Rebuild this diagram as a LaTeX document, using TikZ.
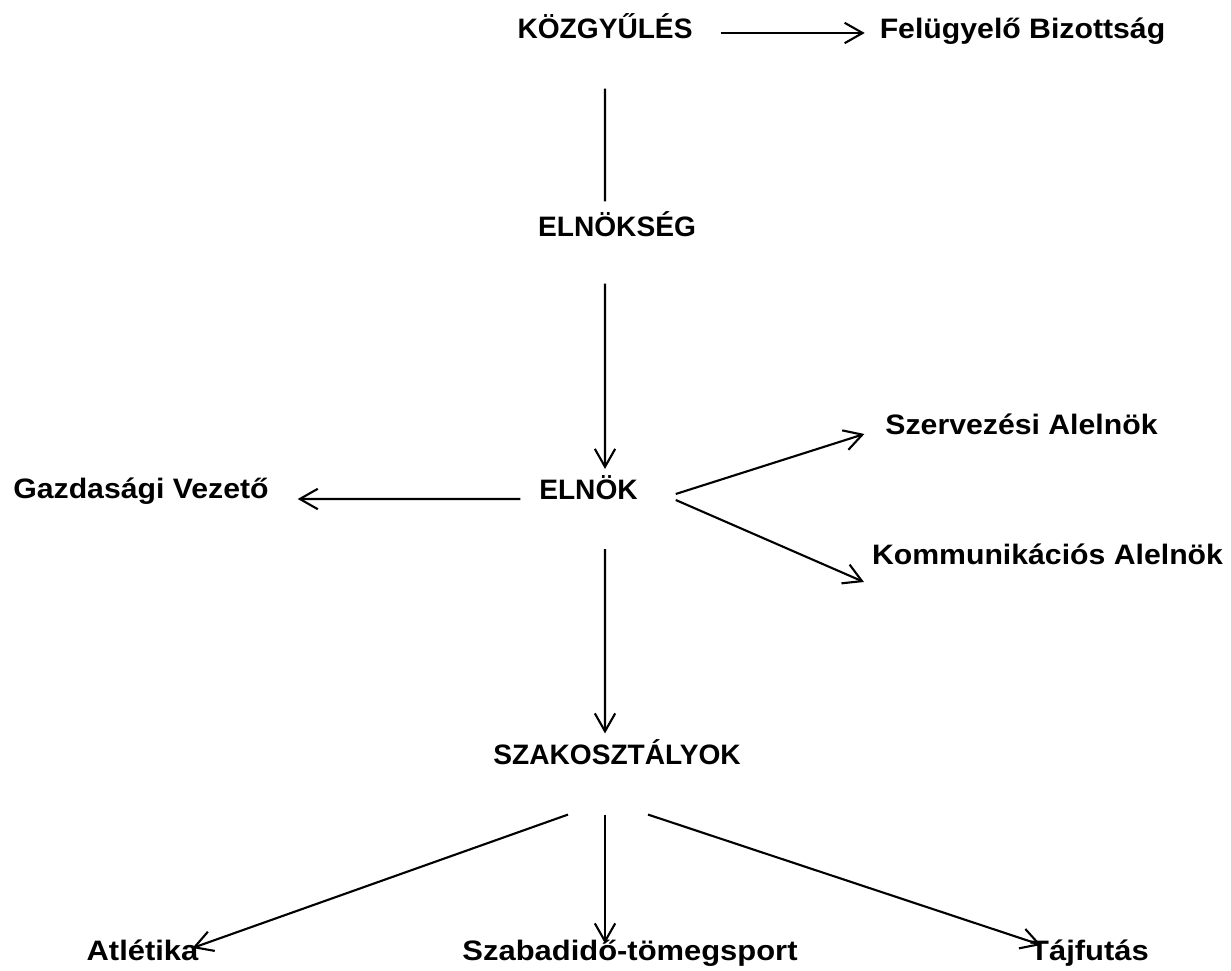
\documentclass[tikz,border=0pt]{standalone}
\usepackage{fontspec}
\setmainfont{Liberation Sans}
\newfontfamily\widefont[FakeStretch=1.075]{Liberation Sans}
\newfontfamily\widerfont[FakeStretch=1.1]{Liberation Sans}
\usetikzlibrary{arrows.meta}
\begin{document}
\begin{tikzpicture}[line width=0.6pt, main node/.style={inner sep=0pt,text height=5.7pt,text depth=0pt,font=\fontsize{8}{9.6}\selectfont\bfseries}, name node/.style={main node,font=\widefont\fontsize{8}{9.6}\selectfont\bfseries}, leaf node/.style={main node,font=\widerfont\fontsize{8}{9.6}\selectfont\bfseries}, arrow edge/.style={-{Straight Barb[length=5.1pt,width=5.8pt]}}] % 1px = 0.01cm
\useasboundingbox (0,0) rectangle (12.31,-9.71);
\node[main node] (kozgy) at (6.05,-0.28) {KÖZGYŰLÉS};
\node[name node] (felugy) at (10.225,-0.28) {Felügyelő Bizottság};
\node[main node] (elnokseg) at (6.17,-2.26) {ELNÖKSÉG};
\node[main node] (elnok) at (5.885,-4.895) {ELNÖK};
\node[name node] (gazd) at (1.41,-4.885) {Gazdasági Vezető};
\node[name node] (szerv) at (10.215,-4.245) {Szervezési Alelnök};
\node[name node] (komm) at (10.475,-5.545) {Kommunikációs Alelnök};
\node[main node] (szak) at (6.17,-7.54) {SZAKOSZTÁLYOK};
\node[leaf node] (atl) at (1.425,-9.505) {Atlétika};
\node[leaf node] (szab) at (6.30,-9.505) {Szabadidő-tömegsport};
\node[leaf node] (taj) at (10.895,-9.505) {Tájfutás};


 \path[arrow edge]
([shift={(0.27,-0.05)}]kozgy.east) edge ([shift={(-0.14,-0.05)}]felugy.west)
([shift={(-0.12,-0.465)}]elnokseg.south) edge ([shift={(0.165,0.095)}]elnok.north)
([shift={(-0.18,-0.095)}]elnok.west) edge ([shift={(0.28,-0.105)}]gazd.east)
([shift={(0.37,-0.045)}]elnok.east) edge ([shift={(-0.20,-0.095)}]szerv.west)
([shift={(0.37,-0.105)}]elnok.east) edge ([shift={(-0.07,-0.275)}]komm.west)
([shift={(0.165,-0.485)}]elnok.south) edge ([shift={(-0.12,0.095)}]szak.north)


([shift={(-0.49,-0.495)}]szak.south) edge ([shift={(-0.07,0.025)}]atl.east)
([shift={(-0.12,-0.495)}]szak.south) edge ([shift={(-0.25,-0.04)}]szab.north)
([shift={(0.31,-0.495)}]szak.south) edge ([shift={(0.12,0.055)}]taj.west);

\draw ([yshift=-0.495cm]kozgy.south) -- ([shift={(-0.12,0.135)}]elnokseg.north);

\end{tikzpicture}
\end{document}
